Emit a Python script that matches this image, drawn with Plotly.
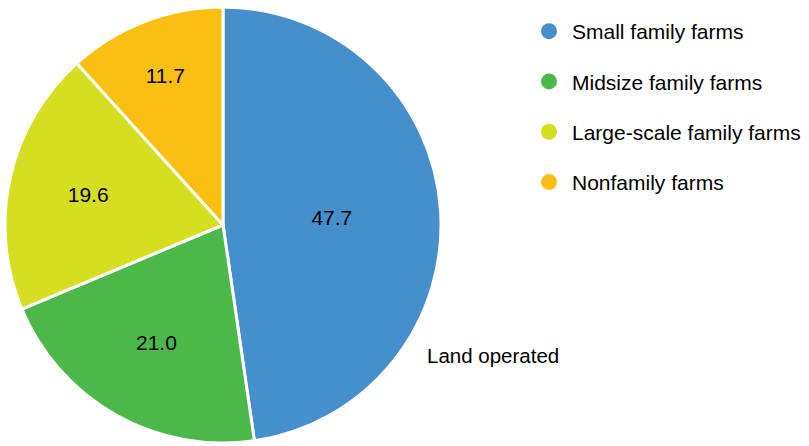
import plotly.graph_objects as go

categories = ["Small family farms", "Midsize family farms", "Large-scale family farms", "Nonfamily farms"]
values = [47.7, 21.0, 19.6, 11.7]
colors = ["#4590CC", "#4DB84A", "#D6DE22", "#FBBF11"]
pie_label = "Land operated"

FONT = "Liberation Sans, Arial, Helvetica, sans-serif"
W, H = 809, 446
fig = go.Figure()
fig.add_trace(go.Pie(
    labels=categories, values=values, sort=False, direction="clockwise", rotation=0,
    marker=dict(colors=colors, line=dict(color="white", width=3)),
    texttemplate="%{value:.1f}", textposition="inside", insidetextorientation="horizontal",
    textfont=dict(size=21, color="black", family=FONT),
    showlegend=False, hoverinfo="label+value",
    domain=dict(x=[5 / W, 441 / W], y=[1 - 443 / H, 1 - 7 / H]),
))
for i, (c, col) in enumerate(zip(categories, colors)):
    fig.add_trace(go.Scatter(
        x=[None], y=[None], mode="markers", name=c, legendgroup=str(i),
        marker=dict(color=col, size=16, symbol="circle"),
    ))
fig.add_annotation(text=pie_label, x=425 / W, y=1 - 355 / H, xref="paper", yref="paper",
                   xanchor="left", yanchor="middle", showarrow=False,
                   font=dict(size=20.5, color="black", family=FONT))
fig.update_layout(
    width=W, height=H, margin=dict(l=0, r=0, t=0, b=0),
    paper_bgcolor="white", plot_bgcolor="white",
    xaxis=dict(visible=False), yaxis=dict(visible=False),
    legend=dict(x=526 / W, y=1 - 11 / H, xanchor="left", yanchor="top",
                traceorder="grouped", tracegroupgap=20, itemwidth=36,
                font=dict(size=21, color="black", family=FONT),
                bgcolor="rgba(0,0,0,0)"),
)
fig.write_html("out.html", config={"displayModeBar": False},
               post_script="document.body.style.margin='0';")
